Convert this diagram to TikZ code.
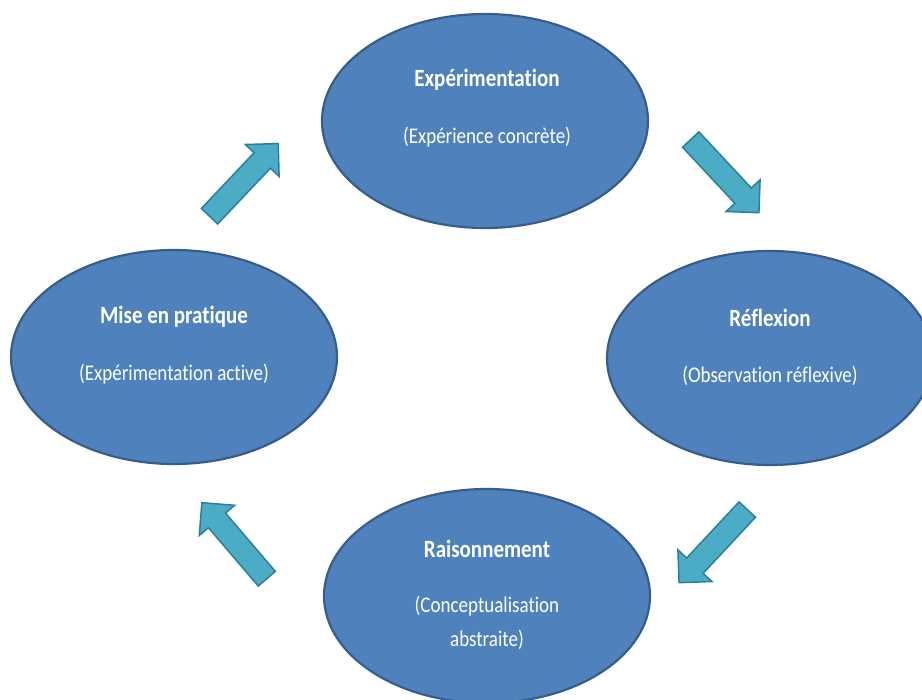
\documentclass[tikz,border=0pt]{standalone}
\usepackage{fontspec}
\usepackage{graphicx}
\setmainfont{Carlito}[Ligatures=NoCommon]
\usetikzlibrary{shapes.geometric,shapes.arrows}
\definecolor{ellfill}{HTML}{4F81BD}
\definecolor{elldraw}{HTML}{385D8A}
\definecolor{arrfill}{HTML}{4BACC6}
\definecolor{arrdraw}{HTML}{2E7F95}
\newcommand{\stretchtxt}[1]{\scalebox{1}[1.18]{#1}}
\tikzset{
  phase/.style={ellipse, draw=elldraw, fill=ellfill, line width=2.2pt,
    minimum width=326pt, minimum height=214pt, inner sep=0pt},
  ttl/.style={text=white, font=\fontsize{21}{23}\selectfont\bfseries},
  sub/.style={text=white, font=\fontsize{19}{21}\selectfont},
  blockarrow/.style={single arrow, draw=arrdraw, fill=arrfill, line width=1.5pt,
    minimum height=100pt, inner sep=10.5pt, single arrow head extend=12pt,
    anchor=center}
}
\begin{document}
\begin{tikzpicture}[x=1pt,y=-1pt]
\useasboundingbox (0,0) rectangle (922,700);
\clip (0,0) rectangle (922,700);
% ellipses
\node[phase] (top) at (485,121) {};
\node[phase] (right) at (770,358) {};
\node[phase] (bottom) at (487,596) {};
\node[phase] (left) at (174,357) {};
% texts
\node[ttl] (topT) at (487,80) {\stretchtxt{Expérimentation}};
\node[sub] (topS) at (487,137) {\stretchtxt{(Expérience concrète)}};
\node[ttl] (rightT) at (770,318) {\stretchtxt{Réflexion}};
\node[sub] (rightS) at (770,376) {\stretchtxt{(Observation réflexive)}};
\node[ttl] (bottomT) at (487,549) {\stretchtxt{Raisonnement}};
\node[sub] (bottomS1) at (487,606) {\stretchtxt{(Conceptualisation}};
\node[sub] (bottomS2) at (487,640) {\stretchtxt{abstraite)}};
\node[ttl] (leftT) at (174,317) {\stretchtxt{Mise en pratique}};
\node[sub] (leftS) at (174,374) {\stretchtxt{(Expérimentation active)}};
% arrows
\node[blockarrow, rotate=46.6] (a1) at (240,184) {};
\node[blockarrow, rotate=-47] (a2) at (721,172) {};
\node[blockarrow, rotate=-133] (a3) at (717,542) {};
\node[blockarrow, rotate=130.5] (a4) at (238,545) {};
\end{tikzpicture}
\end{document}
